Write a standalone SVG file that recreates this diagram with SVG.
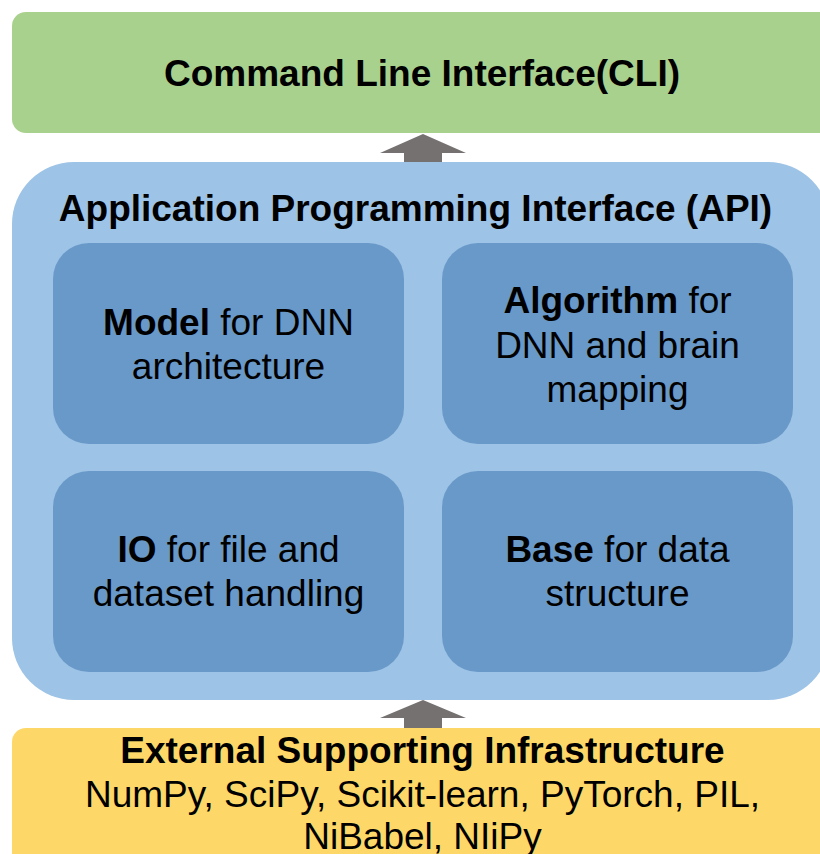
<svg xmlns="http://www.w3.org/2000/svg" width="820" height="854" viewBox="0 0 820 854">
<style>
text{font-family:"Liberation Sans",Arial,sans-serif;font-size:37px;fill:#000;text-anchor:middle}
.b{font-weight:bold}
.inner{fill:#6999c9}
.arrow{fill:#767171}
</style>
<rect width="820" height="854" fill="#fff"/>
<g id="cli">
<rect x="12" y="12" width="830" height="121" rx="14" fill="#a9d18e"/>
<text class="b" x="422" y="86">Command Line Interface(CLI)</text>
</g>
<g id="api">
<rect x="12" y="162" width="818" height="538" rx="62" fill="#9dc3e6"/>
<text class="b" x="415.5" y="221">Application Programming Interface (API)</text>
</g>
<g id="model">
<rect class="inner" x="53" y="243" width="351" height="201" rx="36"/>
<text x="228.5" y="335"><tspan class="b">Model</tspan> for DNN</text>
<text x="228.5" y="379">architecture</text>
</g>
<g id="algorithm">
<rect class="inner" x="442" y="243" width="351" height="201" rx="36"/>
<text x="617.5" y="313"><tspan class="b">Algorithm</tspan> for</text>
<text x="617.5" y="358">DNN and brain</text>
<text x="617.5" y="402">mapping</text>
</g>
<g id="io">
<rect class="inner" x="53" y="471" width="351" height="201" rx="36"/>
<text x="228.5" y="562"><tspan class="b">IO</tspan> for file and</text>
<text x="228.5" y="606">dataset handling</text>
</g>
<g id="base">
<rect class="inner" x="442" y="471" width="351" height="201" rx="36"/>
<text x="617.5" y="562"><tspan class="b">Base</tspan> for data</text>
<text x="617.5" y="606">structure</text>
</g>
<g id="external">
<rect x="12" y="728" width="830" height="160" rx="14" fill="#fdd868"/>
<text class="b" x="422.5" y="763">External Supporting Infrastructure</text>
<text x="422.5" y="807">NumPy, SciPy, Scikit-learn, PyTorch, PIL,</text>
<text x="422.5" y="849">NiBabel, NIiPy</text>
</g>
<g id="connectors">
<polygon class="arrow" points="380,153 423,134 466,153 442,153 442,162 404,162 404,153"/>
<polygon class="arrow" points="380,718 423,700 466,718 442,718 442,728 404,728 404,718"/>
</g>
</svg>
